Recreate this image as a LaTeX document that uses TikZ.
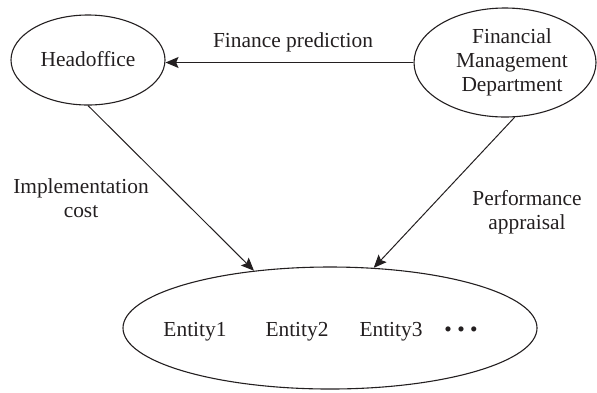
\documentclass[tikz,border=0pt]{standalone}
\usepackage{fontspec}
\setmainfont{Liberation Serif}
\usetikzlibrary{shapes.geometric,arrows.meta}
\definecolor{ink}{HTML}{231F20}
\begin{document}
\begin{tikzpicture}[x=0.5pt,y=-0.5pt,
  oval/.style={ellipse,draw=ink,line width=0.55pt,inner sep=0pt},
  lbl/.style={text=ink,font=\fontsize{10.7}{11.9}\selectfont,inner sep=0pt,anchor=base},
  flow/.style={draw=ink,line width=0.5pt,-{Stealth[length=6.5pt,width=5.5pt,inset=1.2pt]}}]
\useasboundingbox (0,0) rectangle (597,392);
% the three units
\node[oval,minimum width=77pt,minimum height=45pt] (ho) at (88,60) {};
\node[oval,minimum width=91pt,minimum height=54.5pt] (fmd) at (505,62.5) {};
\node[oval,minimum width=207pt,minimum height=61pt] (ent) at (330,328) {};
% unit names (multi-line nodes sit on the baseline of their last line)
\node[lbl] (tho) at (88,66) {Headoffice};
\node[lbl,align=center] (tfmd) at (512,91) {Financial\\Management\\Department};
\node[lbl] (te1) at (195,336) {Entity1};
\node[lbl] (te2) at (297,336) {Entity2};
\node[lbl] (te3) at (391,336) {Entity3};
\node[lbl] (tdots) at (461,336) {\textbullet\ \textbullet\ \textbullet};
% flows between units
\draw[flow] (fmd.west) -- (fmd.west -| ho.east);
\draw[flow] (ho.south) -- (ent.143.5);
\draw[flow] (fmd.-80) -- (ent.54.4);
% flow labels
\node[lbl] (lfin) at (293,47) {Finance prediction};
\node[lbl,align=center] (limp) at (81,217) {Implementation\\cost};
\node[lbl,align=center] (lperf) at (527,229) {Performance\\appraisal};
\end{tikzpicture}
\end{document}
